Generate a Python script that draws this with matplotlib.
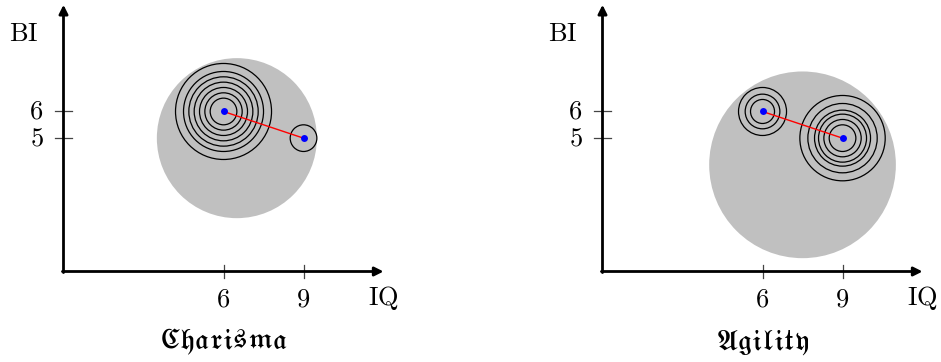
import matplotlib.pyplot as plt
from matplotlib.patches import Circle

plt.rcParams['mathtext.fontset'] = 'cm'

# two attribute maps, points at (IQ, BI)
titles = ["Charisma", "Agility"]
point_a = (6, 6)
point_b = (9, 5)
x_ticks = [6, 9]
y_ticks = [5, 6]

# grey region of each attribute
region_center = [(6.5, 5.0), (7.5, 4.0)]
region_radius = [3.0, 3.5]

# contour rings around each point
rings_a = [[0.5, 0.7, 0.9, 1.1, 1.3, 1.5, 1.8], [0.45, 0.65, 0.9]]
rings_b = [[0.5], [0.5, 0.7, 0.9, 1.05, 1.3, 1.6]]

W, H = 941, 362
scale = 26.67  # pixels per unit
origins = [(63.5, 271.5), (602.5, 271.5)]
boxes = [(0, 470.5), (470.5, 941)]

fig = plt.figure(figsize=(W / 100, H / 100), dpi=100)

for i in range(2):
    x0, x1 = boxes[i]
    ox, oy = origins[i]
    ax = fig.add_axes([x0 / W, 0, (x1 - x0) / W, 1])
    ax.set_xlim((x0 - ox) / scale, (x1 - ox) / scale)
    ax.set_ylim(-(H - oy) / scale, oy / scale)
    ax.axis('off')

    ax.add_patch(Circle(region_center[i], region_radius[i], color='#c0c0c0', lw=0, zorder=1))
    for r in rings_a[i]:
        ax.add_patch(Circle(point_a, r, fill=False, ec='black', lw=0.9, zorder=2))
    for r in rings_b[i]:
        ax.add_patch(Circle(point_b, r, fill=False, ec='black', lw=0.9, zorder=2))
    ax.plot([point_a[0], point_b[0]], [point_a[1], point_b[1]], color='red', lw=1.0, zorder=3)
    ax.plot([point_a[0], point_b[0]], [point_a[1], point_b[1]], 'o', color='blue',
            ms=5, mec='none', zorder=4)

    # axes with arrow tips
    arrow = dict(arrowstyle='-|>', lw=2.0, color='black', mutation_scale=13,
                 shrinkA=0, shrinkB=0)
    ax.annotate('', xy=(12, 0), xytext=(-0.04, 0), arrowprops=arrow)
    ax.annotate('', xy=(0, 10), xytext=(0, -0.04), arrowprops=arrow)

    for t in x_ticks:
        ax.plot([t, t], [-0.25, 0.25], color='#444444', lw=0.9)
        ax.text(t, -1.05, '$%d$' % t, ha='center', va='center', fontsize=19)
    for t in y_ticks:
        ax.plot([-0.33, 0.33], [t, t], color='#444444', lw=0.9)
        ax.text(-0.75, t, '$%d$' % t, ha='right', va='center', fontsize=19)

    ax.text(12, -1.0, r'$\mathrm{IQ}$', ha='center', va='center', fontsize=19)
    ax.text(-1.48, 8.9, r'$\mathrm{BI}$', ha='center', va='center', fontsize=19)
    ax.text(6, -2.65, r'$\mathfrak{%s}$' % titles[i], ha='center', va='center',
            fontsize=20, math_fontfamily='stix')

fig.savefig('out.png', dpi=100)
